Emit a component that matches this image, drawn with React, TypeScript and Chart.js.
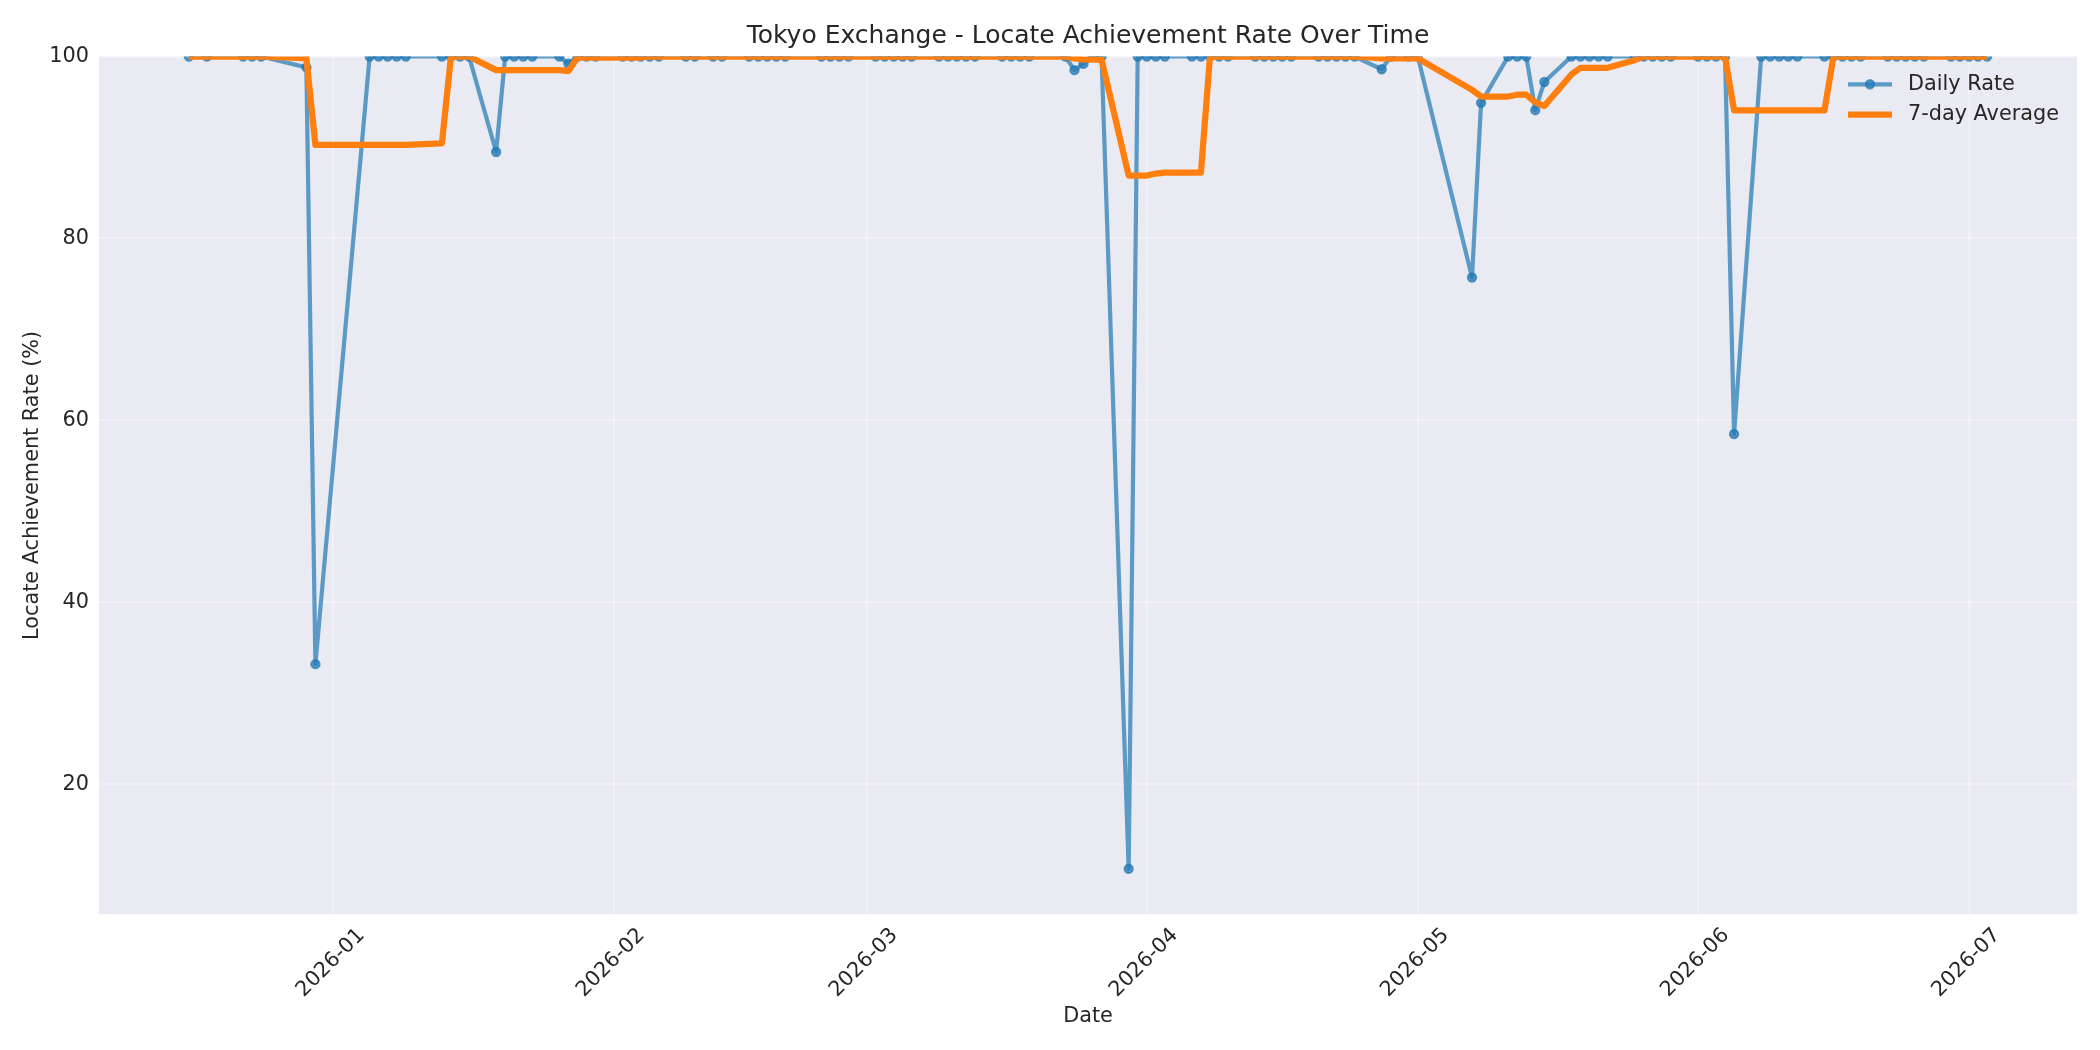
import { useEffect, useRef } from 'react'
import { Chart, registerables } from 'chart.js'

Chart.register(...registerables)

// trading days shown in the chart
const dates = [
  '2025-12-16', '2025-12-18', '2025-12-22', '2025-12-23', '2025-12-24', '2025-12-29', '2025-12-30',
  '2026-01-05', '2026-01-06', '2026-01-07', '2026-01-08', '2026-01-09',
  '2026-01-13', '2026-01-14', '2026-01-15', '2026-01-16',
  '2026-01-19', '2026-01-20', '2026-01-21', '2026-01-22', '2026-01-23',
  '2026-01-26', '2026-01-27', '2026-01-28', '2026-01-29', '2026-01-30',
  '2026-02-02', '2026-02-03', '2026-02-04', '2026-02-05', '2026-02-06',
  '2026-02-09', '2026-02-10', '2026-02-12', '2026-02-13',
  '2026-02-16', '2026-02-17', '2026-02-18', '2026-02-19', '2026-02-20',
  '2026-02-24', '2026-02-25', '2026-02-26', '2026-02-27',
  '2026-03-02', '2026-03-03', '2026-03-04', '2026-03-05', '2026-03-06',
  '2026-03-09', '2026-03-10', '2026-03-11', '2026-03-12', '2026-03-13',
  '2026-03-16', '2026-03-17', '2026-03-18', '2026-03-19',
  '2026-03-23', '2026-03-24', '2026-03-25', '2026-03-26', '2026-03-27',
  '2026-03-30', '2026-03-31', '2026-04-01', '2026-04-02', '2026-04-03',
  '2026-04-06', '2026-04-07', '2026-04-08', '2026-04-09', '2026-04-10',
  '2026-04-13', '2026-04-14', '2026-04-15', '2026-04-16', '2026-04-17',
  '2026-04-20', '2026-04-21', '2026-04-22', '2026-04-23', '2026-04-24',
  '2026-04-27', '2026-04-28', '2026-04-30', '2026-05-01',
  '2026-05-07', '2026-05-08',
  '2026-05-11', '2026-05-12', '2026-05-13', '2026-05-14', '2026-05-15',
  '2026-05-18', '2026-05-19', '2026-05-20', '2026-05-21', '2026-05-22',
  '2026-05-25', '2026-05-26', '2026-05-27', '2026-05-28', '2026-05-29',
  '2026-06-01', '2026-06-02', '2026-06-03', '2026-06-04', '2026-06-05',
  '2026-06-08', '2026-06-09', '2026-06-10', '2026-06-11', '2026-06-12',
  '2026-06-15', '2026-06-16', '2026-06-17', '2026-06-18', '2026-06-19',
  '2026-06-22', '2026-06-23', '2026-06-24', '2026-06-25', '2026-06-26',
  '2026-06-29', '2026-06-30', '2026-07-01', '2026-07-02', '2026-07-03',
]

const dailyRate = [
  100, 100, 100, 100, 100, 98.8, 33.2,
  100, 100, 100, 100, 100,
  100, 100, 100, 100,
  89.5, 100, 100, 100, 100,
  100, 99.2, 100, 100, 100,
  100, 100, 100, 100, 100,
  100, 100, 100, 100,
  100, 100, 100, 100, 100,
  100, 100, 100, 100,
  100, 100, 100, 100, 100,
  100, 100, 100, 100, 100,
  100, 100, 100, 100,
  100, 98.5, 99.2, 100, 100,
  10.7, 100, 100, 100, 100,
  100, 100, 100, 100, 100,
  100, 100, 100, 100, 100,
  100, 100, 100, 100, 100,
  98.6, 100, 100, 100,
  75.7, 94.9,
  100, 100, 100, 94.1, 97.2,
  100, 100, 100, 100, 100,
  100, 100, 100, 100, 100,
  100, 100, 100, 100, 58.5,
  100, 100, 100, 100, 100,
  100, 100, 100, 100, 100,
  100, 100, 100, 100, 100,
  100, 100, 100, 100, 100,
]

const weeklyAvg = [
  100, 100, 100, 100, 100, 99.8, 90.29,
  90.29, 90.29, 90.29, 90.29, 90.29,
  90.46, 100, 100, 100,
  98.5, 98.5, 98.5, 98.5, 98.5,
  98.5, 98.39, 99.89, 99.89, 99.89,
  99.89, 99.89, 99.89, 100, 100,
  100, 100, 100, 100,
  100, 100, 100, 100, 100,
  100, 100, 100, 100,
  100, 100, 100, 100, 100,
  100, 100, 100, 100, 100,
  100, 100, 100, 100,
  100, 99.79, 99.67, 99.67, 99.67,
  86.91, 86.91, 86.91, 87.13, 87.24,
  87.24, 87.24, 100, 100, 100,
  100, 100, 100, 100, 100,
  100, 100, 100, 100, 100,
  99.8, 99.8, 99.8, 99.8,
  96.33, 95.6,
  95.6, 95.8, 95.8, 94.96, 94.56,
  98.03, 98.76, 98.76, 98.76, 98.76,
  99.6, 100, 100, 100, 100,
  100, 100, 100, 100, 94.07,
  94.07, 94.07, 94.07, 94.07, 94.07,
  94.07, 100, 100, 100, 100,
  100, 100, 100, 100, 100,
  100, 100, 100, 100, 100,
]

const monthTicks = ['2026-01', '2026-02', '2026-03', '2026-04', '2026-05', '2026-06', '2026-07']
const yTicks = [20, 40, 60, 80, 100]

const W = 2100
const H = 1050
const FONT = '"DejaVu Sans", "Liberation Sans", sans-serif'
const TEXT = '#262626'
const BLUE = 'rgba(31,119,180,0.7)'
const ORANGE = '#ff7f0e'
const GRID = 'rgba(255,255,255,0.3)'

const EPOCH = Date.UTC(2026, 0, 1)
const toDay = (s: string) => {
  const [y, m, d] = s.split('-').map(Number)
  return (Date.UTC(y, m - 1, d || 1) - EPOCH) / 86400000
}

const xs = dates.map(toDay)
const span = xs[xs.length - 1] - xs[0]
const xMin = xs[0] - span * 0.05
const xMax = xs[xs.length - 1] + span * 0.05
const yMin = Math.min(...dailyRate) - 5

const background = {
  id: 'background',
  beforeDraw(chart: Chart) {
    const { ctx, chartArea: a } = chart
    ctx.save()
    ctx.fillStyle = '#ffffff'
    ctx.fillRect(0, 0, chart.width, chart.height)
    ctx.fillStyle = '#eaeaf2'
    ctx.fillRect(a.left, a.top, a.right - a.left, a.bottom - a.top)
    ctx.restore()
  },
}

// matplotlib-like legend: line handle (with marker) + label, top right inside the axes
const legendBox = {
  id: 'legendBox',
  afterDraw(chart: Chart) {
    const { ctx, chartArea: a } = chart
    const x0 = a.right - 229
    const x1 = x0 + 44
    const rows = [
      { label: 'Daily Rate', color: BLUE, width: 4.2, marker: true, y: a.top + 27.8 },
      { label: '7-day Average', color: ORANGE, width: 6.25, marker: false, y: a.top + 58.2 },
    ]
    ctx.save()
    for (const r of rows) {
      ctx.strokeStyle = r.color
      ctx.lineWidth = r.width
      ctx.beginPath()
      ctx.moveTo(x0, r.y)
      ctx.lineTo(x1, r.y)
      ctx.stroke()
      if (r.marker) {
        ctx.fillStyle = r.color
        ctx.lineWidth = 2.08
        ctx.beginPath()
        ctx.arc((x0 + x1) / 2, r.y, 4.17, 0, Math.PI * 2)
        ctx.fill()
        ctx.stroke()
      }
      ctx.fillStyle = TEXT
      ctx.font = `20.8px ${FONT}`
      ctx.textBaseline = 'middle'
      ctx.textAlign = 'left'
      ctx.fillText(r.label, x1 + 16, r.y)
    }
    ctx.restore()
  },
}

function LocateChart() {
  const ref = useRef<HTMLCanvasElement>(null)
  const chart = useRef<Chart | null>(null)

  useEffect(() => {
    if (!ref.current) return
    chart.current?.destroy()
    chart.current = new Chart(ref.current.getContext('2d')!, {
      type: 'line',
      data: {
        datasets: [
          {
            label: 'Daily Rate',
            data: xs.map((x, i) => ({ x, y: dailyRate[i] })),
            borderColor: BLUE,
            backgroundColor: BLUE,
            borderWidth: 4.2,
            pointRadius: 4.17,
            pointBorderWidth: 2.08,
            pointBackgroundColor: BLUE,
            pointBorderColor: BLUE,
            borderJoinStyle: 'round',
            tension: 0,
            clip: 0,
            order: 2,
          },
          {
            label: '7-day Average',
            data: xs.map((x, i) => ({ x, y: weeklyAvg[i] })),
            borderColor: ORANGE,
            backgroundColor: ORANGE,
            borderWidth: 6.25,
            pointRadius: 0,
            borderJoinStyle: 'round',
            tension: 0,
            clip: 0,
            order: 1,
          },
        ],
      },
      options: {
        responsive: false,
        animation: false,
        devicePixelRatio: 1,
        events: [],
        layout: { padding: { left: 0, right: 23, top: 0, bottom: 0 } },
        plugins: {
          legend: { display: false },
          tooltip: { enabled: false },
          title: {
            display: true,
            fullSize: false,
            text: 'Tokyo Exchange - Locate Achievement Rate Over Time',
            color: TEXT,
            font: { family: FONT, size: 25, weight: 'normal', lineHeight: 1.2 },
            padding: { top: 21.2, bottom: 5.3 },
          },
        },
        scales: {
          x: {
            type: 'linear',
            min: xMin,
            max: xMax,
            afterBuildTicks: (s: any) => {
              s.ticks = monthTicks.map((t) => ({ value: toDay(t + '-01') }))
            },
            afterFit: (s: any) => {
              s.height = H - 914.3
            },
            grid: { color: GRID, lineWidth: 2, drawTicks: false },
            border: { display: false },
            ticks: {
              autoSkip: false,
              minRotation: 45,
              maxRotation: 45,
              padding: 9,
              labelOffset: 28,
              color: TEXT,
              font: { family: FONT, size: 20.8 },
              callback: (v: any) => monthTicks.find((t) => toDay(t + '-01') === v) ?? '',
            },
            title: {
              display: true,
              text: 'Date',
              color: TEXT,
              font: { family: FONT, size: 20.8 },
              padding: { top: 0, bottom: 20.5 },
            },
          },
          y: {
            min: yMin,
            max: 100,
            afterBuildTicks: (s: any) => {
              s.ticks = yTicks.map((v) => ({ value: v }))
            },
            afterFit: (s: any) => {
              s.width = 99
            },
            grid: { color: GRID, lineWidth: 2, drawTicks: false },
            border: { display: false },
            ticks: {
              padding: 10,
              color: TEXT,
              font: { family: FONT, size: 20.8 },
              callback: (v: any) => String(v),
            },
            title: {
              display: true,
              text: 'Locate Achievement Rate (%)',
              color: TEXT,
              font: { family: FONT, size: 20.8 },
              padding: { top: 20.5, bottom: 0 },
            },
          },
        },
      },
      plugins: [background, legendBox],
    })
    return () => chart.current?.destroy()
  }, [])

  return (
    <div style={{ position: 'relative', width: W, height: H }}>
      <canvas ref={ref} width={W} height={H} role="img" aria-label="Tokyo Exchange - Locate Achievement Rate Over Time" />
    </div>
  )
}

export default function App() {
  useEffect(() => {
    document.body.style.margin = '0'
    document.body.style.overflow = 'hidden'
  }, [])
  return <LocateChart />
}
